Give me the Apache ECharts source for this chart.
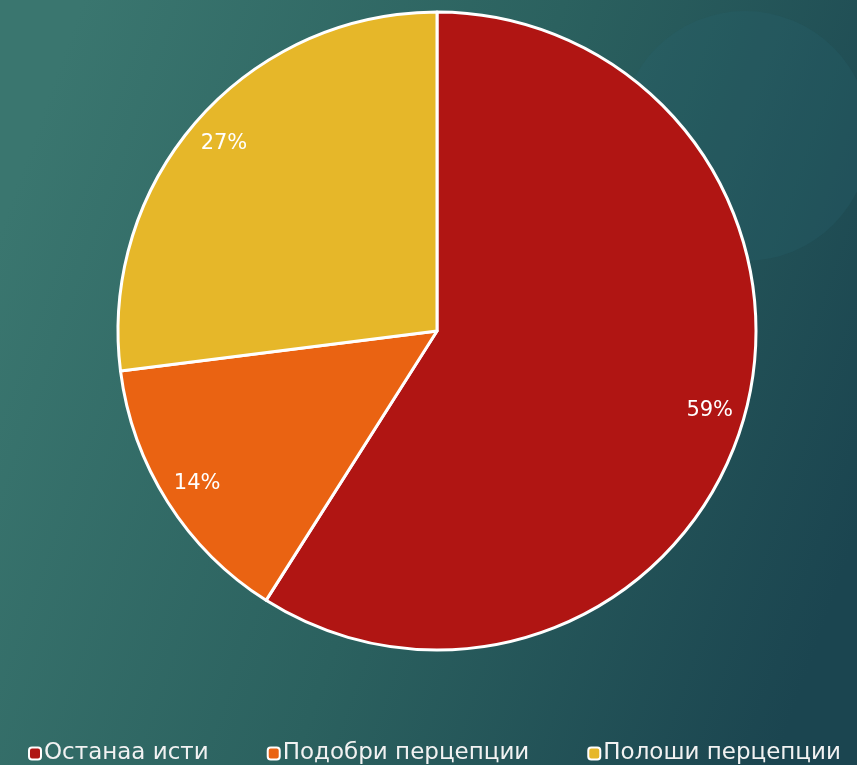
<!DOCTYPE html>
<html>
<head>
<meta charset="utf-8">
<script src="https://cdn.jsdelivr.net/npm/echarts@6/dist/echarts.min.js"></script>
<style>
  html, body { margin: 0; padding: 0; }
  #chart { width: 857px; height: 765px; }
</style>
</head>
<body>
<div id="chart"></div>
<script>
// категории и вредности (проценти)
var categories = ['Останаа исти', 'Подобри перцепции', 'Полоши перцепции'];
var values = [59, 14, 27];
var colors = ['#B01513', '#EA6312', '#E6B729'];

var pieData = categories.map(function (name, i) {
  return { name: name, value: values[i], itemStyle: { color: colors[i] } };
});

var chart = echarts.init(document.getElementById('chart'));

var option = {
  backgroundColor: {
    type: 'linear', x: 0, y: 0.3, x2: 1, y2: 0.7,
    colorStops: [
      { offset: 0, color: '#3a766f' },
      { offset: 0.5, color: '#2b615f' },
      { offset: 1, color: '#1b4550' }
    ]
  },
  graphic: [{
    type: 'circle',
    shape: { cx: 745, cy: 136, r: 125 },
    style: { fill: 'rgba(40,100,110,0.25)' },
    z: -1
  }],
  legend: {
    data: categories,
    left: 23,
    top: 737,
    width: 1000,
    icon: 'roundRect',
    itemWidth: 12,
    itemHeight: 12,
    itemGap: 58,
    itemStyle: { borderColor: '#ffffff', borderWidth: 2 },
    textStyle: { color: '#f2f2f2', fontSize: 23, fontFamily: 'DejaVu Sans', padding: [0, 0, 0, -2] }
  },
  series: [
    {
      type: 'pie',
      center: [437, 331],
      radius: 319,
      startAngle: 90,
      clockwise: true,
      silent: true,
      label: { show: false },
      labelLine: { show: false },
      itemStyle: { borderColor: '#ffffff', borderWidth: 3 },
      data: pieData
    },
    {
      // прозрачна серија само за етикетите
      type: 'pie',
      center: [437, 331],
      radius: [243, 319],
      startAngle: 90,
      clockwise: true,
      silent: true,
      itemStyle: { color: 'transparent', borderWidth: 0 },
      label: {
        show: true,
        position: 'inside',
        formatter: '{c}%',
        color: '#ffffff',
        fontSize: 21,
        fontFamily: 'DejaVu Sans'
      },
      labelLine: { show: false },
      data: categories.map(function (name, i) { return { name: name, value: values[i] }; })
    }
  ]
};

chart.setOption(option);
</script>
</body>
</html>
